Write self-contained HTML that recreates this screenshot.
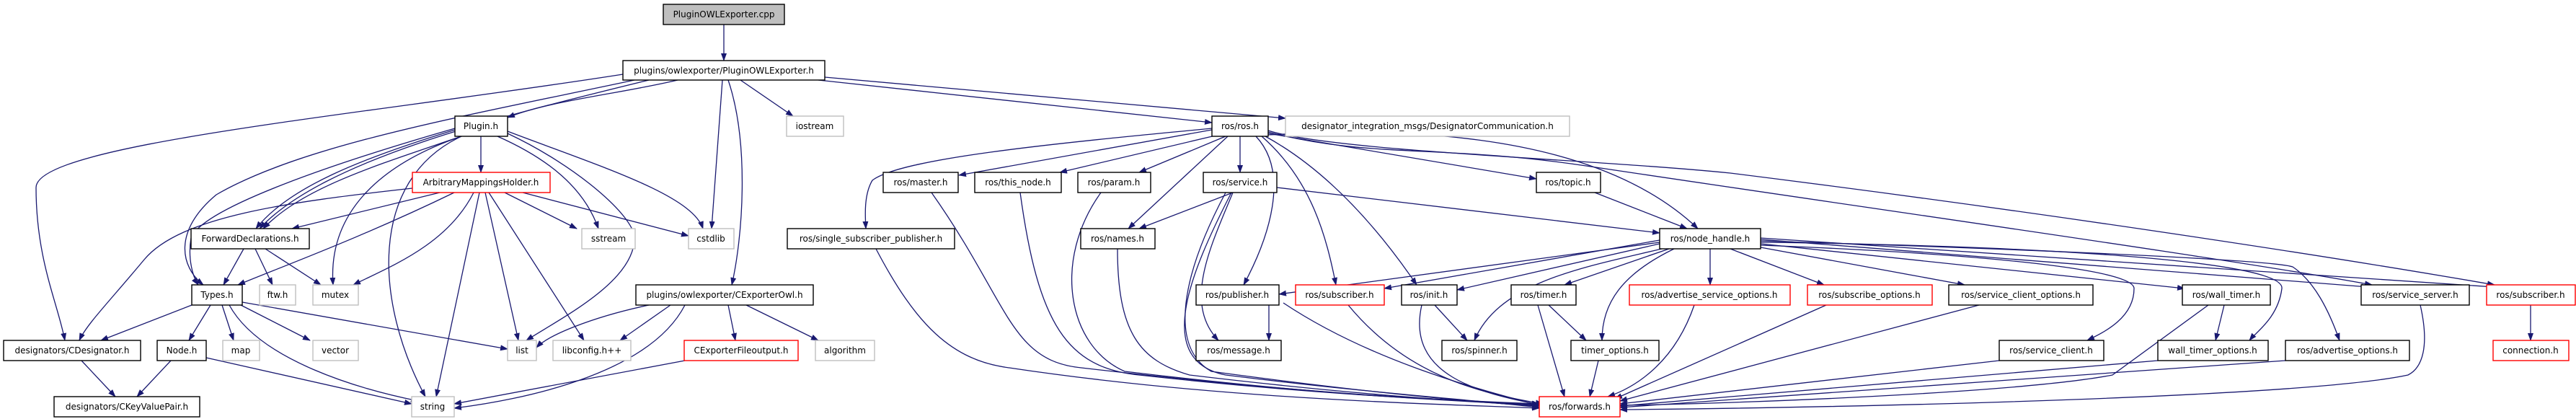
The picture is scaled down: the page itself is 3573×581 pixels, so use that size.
<!DOCTYPE html>
<html><head><meta charset="utf-8"><style>
html,body{margin:0;padding:0;background:#fff;}
svg{display:block;}
text{font-family:"DejaVu Sans","Liberation Sans",sans-serif;font-size:12px;fill:#000;}
.e{fill:none;stroke:#191970;stroke-width:1.3;}
.b{fill:#fff;stroke:#000;stroke-width:1.4;}
.g{fill:#fff;stroke:#bfbfbf;stroke-width:1.4;}
.r{fill:#fff;stroke:#ff0000;stroke-width:1.4;}
</style></head><body>
<svg width="3573" height="581" viewBox="0 0 3573 581" xmlns="http://www.w3.org/2000/svg">
<defs><marker id="a" markerWidth="11" markerHeight="8" refX="10" refY="4" orient="auto" markerUnits="userSpaceOnUse"><path d="M0,0 L11,4 L0,8 z" fill="#191970"/></marker></defs>
<g class="e" marker-end="url(#a)">
<path d="M1004,34 L1004,84"/>
<path d="M940,111 C860,130 760,140 704,163"/>
<path d="M864,103 C500,160 50,200 50,260 C50,360 80,420 90,472"/>
<path d="M880,111 C650,160 420,200 300,270 C240,320 250,370 282,395"/>
<path d="M900,111 C700,160 450,220 360,317"/>
<path d="M1002,111 L987,317"/>
<path d="M1010,111 C1040,200 1030,330 1015,395"/>
<path d="M1027,111 L1100,161"/>
<path d="M1135,111 L1681,170"/>
<path d="M1144,107 L1783,164"/>
<path d="M667,189 L667,239"/>
<path d="M631,180 C500,220 400,260 355,317"/>
<path d="M640,189 C520,230 420,260 365,317"/>
<path d="M631,178 C450,230 280,290 265,330 C260,360 268,385 275,395"/>
<path d="M640,189 C520,230 455,300 462,395"/>
<path d="M640,189 C510,250 520,420 590,550"/>
<path d="M690,189 C760,220 810,260 830,317"/>
<path d="M704,185 C800,230 880,300 880,330 C880,390 780,440 730,472"/>
<path d="M704,182 C830,230 960,270 975,317"/>
<path d="M572,261 C400,280 250,300 200,360 C150,420 120,450 110,472"/>
<path d="M610,267 L405,317"/>
<path d="M630,267 C500,330 390,370 330,395"/>
<path d="M657,267 C620,340 540,370 490,395"/>
<path d="M665,267 L605,550"/>
<path d="M673,267 L719,472"/>
<path d="M678,267 L810,472"/>
<path d="M700,267 L800,317"/>
<path d="M725,267 L955,327"/>
<path d="M338,345 L310,395"/>
<path d="M354,345 L378,395"/>
<path d="M368,345 L445,395"/>
<path d="M266,423 L140,472"/>
<path d="M292,423 L262,472"/>
<path d="M308,423 L324,472"/>
<path d="M318,423 C360,500 500,540 580,556"/>
<path d="M334,423 L430,472"/>
<path d="M336,419 L704,484"/>
<path d="M113,500 L160,550"/>
<path d="M237,500 L190,550"/>
<path d="M286,496 L571,560"/>
<path d="M900,423 C820,440 760,465 744,482"/>
<path d="M930,423 L860,472"/>
<path d="M950,423 C900,520 720,555 630,566"/>
<path d="M1010,423 L1020,472"/>
<path d="M1035,423 L1135,472"/>
<path d="M950,500 L630,560"/>
<path d="M1681,178 C1450,200 1250,220 1210,250 C1198,270 1200,300 1201,317"/>
<path d="M1681,180 L1330,243"/>
<path d="M1690,187 L1470,239"/>
<path d="M1700,189 L1580,239"/>
<path d="M1720,189 L1720,239"/>
<path d="M1703,189 L1565,317"/>
<path d="M1742,189 C1790,240 1760,330 1725,395"/>
<path d="M1750,189 C1820,250 1840,330 1853,395"/>
<path d="M1755,189 C1830,230 1900,300 1965,395"/>
<path d="M1759,187 C1900,180 2200,170 2355,317"/>
<path d="M1759,185 L2131,248"/>
<path d="M1759,183 C1900,220 2000,200 2200,230 C2600,290 3100,360 3290,395"/>
<path d="M1759,181 C1850,210 2200,220 2400,240 C2800,290 3200,350 3460,395"/>
<path d="M1710,267 L1580,317"/>
<path d="M1771,260 L2302,323"/>
<path d="M1710,267 C1680,340 1640,420 1690,472"/>
<path d="M1708,267 C1650,380 1600,500 1700,520 C1900,545 2050,555 2135,565"/>
<path d="M1700,267 C1640,380 1620,480 1680,515 C1900,545 2050,558 2135,563"/>
<path d="M1292,267 C1400,420 1400,500 1500,510 C1800,545 2000,555 2135,560"/>
<path d="M1415,267 C1440,450 1480,510 1580,520 C1850,550 2030,555 2135,561"/>
<path d="M1527,267 C1460,360 1480,480 1560,515 C1850,550 2030,556 2135,562"/>
<path d="M1550,345 C1550,460 1580,500 1650,520 C1900,550 2050,557 2135,563"/>
<path d="M1215,345 C1270,450 1320,500 1400,510 C1700,555 2000,560 2135,566"/>
<path d="M2212,267 L2340,317"/>
<path d="M2302,336 L1774,408"/>
<path d="M2302,333 L1920,400"/>
<path d="M2302,338 L2021,402"/>
<path d="M2305,345 C2200,370 2080,390 2045,472"/>
<path d="M2315,345 L2170,395"/>
<path d="M2322,345 C2250,380 2222,420 2222,472"/>
<path d="M2372,345 L2372,395"/>
<path d="M2400,345 L2530,395"/>
<path d="M2442,343 L2725,395"/>
<path d="M2442,340 C2700,350 2960,370 2960,400 C2960,440 2920,460 2895,472"/>
<path d="M2442,338 L3030,400"/>
<path d="M2442,336 C2800,340 3170,360 3165,400 C3160,440 3130,460 3120,472"/>
<path d="M2442,334 C2800,345 3150,360 3180,370 C3210,390 3230,430 3245,472"/>
<path d="M2442,332 L3285,398"/>
<path d="M2442,330 L3460,398"/>
<path d="M1760,423 L1760,472"/>
<path d="M1780,420 C1900,500 2050,540 2135,562"/>
<path d="M1870,423 C1950,520 2050,545 2140,560"/>
<path d="M1972,423 C1950,520 2050,545 2140,562"/>
<path d="M1990,423 L2035,472"/>
<path d="M2133,423 L2170,550"/>
<path d="M2148,423 L2200,472"/>
<path d="M2217,500 L2205,550"/>
<path d="M2350,423 C2320,510 2260,540 2230,550"/>
<path d="M2533,423 L2240,553"/>
<path d="M2745,423 L2247,556"/>
<path d="M2773,500 L2247,560"/>
<path d="M3063,423 L2930,520 C2800,545 2400,560 2247,562"/>
<path d="M3085,423 L3073,472"/>
<path d="M2993,500 L2247,563"/>
<path d="M3170,500 L2247,565"/>
<path d="M3357,423 C3370,480 3360,510 3340,520 C3200,550 2600,565 2247,568"/>
<path d="M3510,423 L3510,472"/>
</g>
<g>
<rect x="920" y="6" width="168" height="28" fill="#bfbfbf" stroke="#000" stroke-width="1.4"/>
<text x="1004" y="24" text-anchor="middle">PluginOWLExporter.cpp</text>
<rect class="b" x="864" y="84" width="280" height="27"/><text x="1004" y="102" text-anchor="middle">plugins/owlexporter/PluginOWLExporter.h</text>
<rect class="b" x="631" y="161" width="73" height="28"/><text x="667" y="179" text-anchor="middle">Plugin.h</text>
<rect class="g" x="1091" y="161" width="79" height="28"/><text x="1130" y="179" text-anchor="middle">iostream</text>
<rect class="b" x="1681" y="161" width="78" height="28"/><text x="1720" y="179" text-anchor="middle">ros/ros.h</text>
<rect class="g" x="1783" y="161" width="394" height="28"/><text x="1980" y="179" text-anchor="middle">designator_integration_msgs/DesignatorCommunication.h</text>
<rect class="r" x="572" y="239" width="191" height="28"/><text x="667" y="257" text-anchor="middle">ArbitraryMappingsHolder.h</text>
<rect class="b" x="1225" y="239" width="104" height="28"/><text x="1277" y="257" text-anchor="middle">ros/master.h</text>
<rect class="b" x="1352" y="239" width="120" height="28"/><text x="1412" y="257" text-anchor="middle">ros/this_node.h</text>
<rect class="b" x="1495" y="239" width="101" height="28"/><text x="1545" y="257" text-anchor="middle">ros/param.h</text>
<rect class="b" x="1669" y="239" width="102" height="28"/><text x="1720" y="257" text-anchor="middle">ros/service.h</text>
<rect class="b" x="2131" y="239" width="89" height="28"/><text x="2175" y="257" text-anchor="middle">ros/topic.h</text>
<rect class="b" x="265" y="317" width="164" height="28"/><text x="347" y="335" text-anchor="middle">ForwardDeclarations.h</text>
<rect class="g" x="807" y="317" width="74" height="28"/><text x="844" y="335" text-anchor="middle">sstream</text>
<rect class="g" x="955" y="317" width="63" height="28"/><text x="986" y="335" text-anchor="middle">cstdlib</text>
<rect class="b" x="1092" y="317" width="232" height="28"/><text x="1208" y="335" text-anchor="middle">ros/single_subscriber_publisher.h</text>
<rect class="b" x="1499" y="317" width="103" height="28"/><text x="1550" y="335" text-anchor="middle">ros/names.h</text>
<rect class="b" x="2302" y="317" width="140" height="28"/><text x="2372" y="335" text-anchor="middle">ros/node_handle.h</text>
<rect class="b" x="266" y="395" width="70" height="28"/><text x="301" y="413" text-anchor="middle">Types.h</text>
<rect class="g" x="360" y="395" width="50" height="28"/><text x="385" y="413" text-anchor="middle">ftw.h</text>
<rect class="g" x="434" y="395" width="63" height="28"/><text x="465" y="413" text-anchor="middle">mutex</text>
<rect class="b" x="882" y="395" width="246" height="28"/><text x="1005" y="413" text-anchor="middle">plugins/owlexporter/CExporterOwl.h</text>
<rect class="b" x="1659" y="395" width="115" height="28"/><text x="1716" y="413" text-anchor="middle">ros/publisher.h</text>
<rect class="r" x="1797" y="395" width="123" height="28"/><text x="1858" y="413" text-anchor="middle">ros/subscriber.h</text>
<rect class="b" x="1944" y="395" width="77" height="28"/><text x="1982" y="413" text-anchor="middle">ros/init.h</text>
<rect class="b" x="2096" y="395" width="90" height="28"/><text x="2141" y="413" text-anchor="middle">ros/timer.h</text>
<rect class="r" x="2260" y="395" width="223" height="28"/><text x="2371" y="413" text-anchor="middle">ros/advertise_service_options.h</text>
<rect class="r" x="2507" y="395" width="173" height="28"/><text x="2593" y="413" text-anchor="middle">ros/subscribe_options.h</text>
<rect class="b" x="2703" y="395" width="200" height="28"/><text x="2803" y="413" text-anchor="middle">ros/service_client_options.h</text>
<rect class="b" x="3027" y="395" width="122" height="28"/><text x="3088" y="413" text-anchor="middle">ros/wall_timer.h</text>
<rect class="b" x="3275" y="395" width="150" height="28"/><text x="3350" y="413" text-anchor="middle">ros/service_server.h</text>
<rect class="r" x="3449" y="395" width="123" height="28"/><text x="3510" y="413" text-anchor="middle">ros/subscriber.h</text>
<rect class="b" x="5" y="472" width="190" height="28"/><text x="100" y="490" text-anchor="middle">designators/CDesignator.h</text>
<rect class="b" x="218" y="472" width="68" height="28"/><text x="252" y="490" text-anchor="middle">Node.h</text>
<rect class="g" x="309" y="472" width="51" height="28"/><text x="334" y="490" text-anchor="middle">map</text>
<rect class="g" x="434" y="472" width="63" height="28"/><text x="465" y="490" text-anchor="middle">vector</text>
<rect class="g" x="704" y="472" width="40" height="28"/><text x="724" y="490" text-anchor="middle">list</text>
<rect class="g" x="767" y="472" width="108" height="28"/><text x="821" y="490" text-anchor="middle">libconfig.h++</text>
<rect class="r" x="949" y="472" width="158" height="28"/><text x="1028" y="490" text-anchor="middle">CExporterFileoutput.h</text>
<rect class="g" x="1131" y="472" width="82" height="28"/><text x="1172" y="490" text-anchor="middle">algorithm</text>
<rect class="b" x="1659" y="472" width="118" height="28"/><text x="1718" y="490" text-anchor="middle">ros/message.h</text>
<rect class="b" x="2000" y="472" width="104" height="28"/><text x="2052" y="490" text-anchor="middle">ros/spinner.h</text>
<rect class="b" x="2179" y="472" width="122" height="28"/><text x="2240" y="490" text-anchor="middle">timer_options.h</text>
<rect class="b" x="2773" y="472" width="145" height="28"/><text x="2845" y="490" text-anchor="middle">ros/service_client.h</text>
<rect class="b" x="2993" y="472" width="153" height="28"/><text x="3069" y="490" text-anchor="middle">wall_timer_options.h</text>
<rect class="b" x="3170" y="472" width="172" height="28"/><text x="3256" y="490" text-anchor="middle">ros/advertise_options.h</text>
<rect class="r" x="3458" y="472" width="105" height="28"/><text x="3510" y="490" text-anchor="middle">connection.h</text>
<rect class="b" x="75" y="550" width="202" height="28"/><text x="176" y="568" text-anchor="middle">designators/CKeyValuePair.h</text>
<rect class="g" x="571" y="550" width="59" height="28"/><text x="600" y="568" text-anchor="middle">string</text>
<rect class="r" x="2135" y="550" width="112" height="28"/><text x="2191" y="568" text-anchor="middle">ros/forwards.h</text>
</g>
</svg>
</body></html>
